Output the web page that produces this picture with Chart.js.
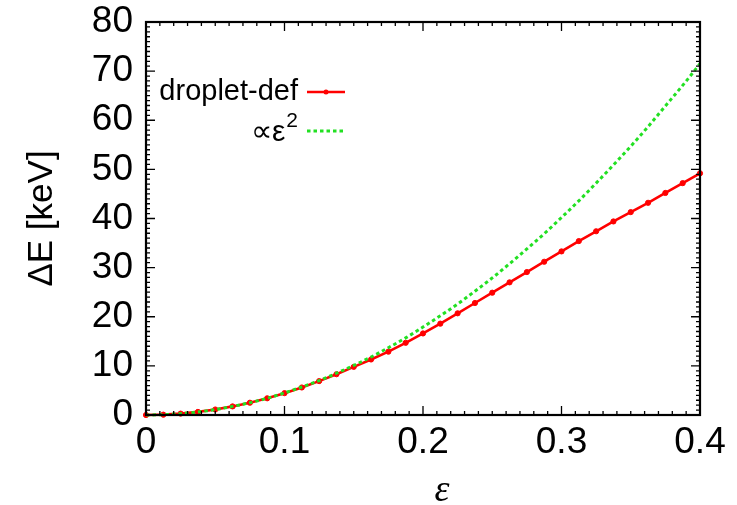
<!DOCTYPE html>
<html>
<head>
<meta charset="utf-8">
<script src="https://cdn.jsdelivr.net/npm/chart.js@4/dist/chart.umd.min.js"></script>
<style>
  html, body { margin: 0; padding: 0; background: #fff; }
  #wrap { width: 737px; height: 505px; }
</style>
</head>
<body>
<div id="wrap"><canvas id="canvas"></canvas></div>
<script>
// deformation parameter epsilon
const eps = [0, 0.0125, 0.025, 0.0375, 0.05, 0.0625, 0.075, 0.0875, 0.1, 0.1125, 0.125, 0.1375,
  0.15, 0.1625, 0.175, 0.1875, 0.2, 0.2125, 0.225, 0.2375, 0.25, 0.2625, 0.275, 0.2875,
  0.3, 0.3125, 0.325, 0.3375, 0.35, 0.3625, 0.375, 0.3875, 0.4]

// droplet-def, keV
const dropletDef = [0, 0.07, 0.28, 0.63, 1.12, 1.75, 2.5, 3.4, 4.45, 5.6, 6.9, 8.3,
  9.8, 11.3, 12.9, 14.7, 16.6, 18.6, 20.7, 22.8, 24.9, 27.0, 29.1, 31.2,
  33.3, 35.4, 37.4, 39.4, 41.3, 43.2, 45.2, 47.2, 49.2]

// ~ eps^2 curve, keV
const epsSquared = [0, 0.07, 0.28, 0.63, 1.1, 1.75, 2.5, 3.4, 4.5, 5.7, 7.0, 8.5,
  10.1, 11.8, 13.7, 15.7, 17.9, 20.2, 22.6, 25.2, 27.9, 30.8, 33.8, 36.9,
  40.2, 43.6, 47.2, 50.9, 54.7, 58.7, 62.9, 67.1, 71.5]

const xTicks = [0, 0.1, 0.2, 0.3, 0.4]
const yTicks = [0, 10, 20, 30, 40, 50, 60, 70, 80]

const RED = '#ff0000'
const GREEN = '#22e022'
const SANS = "'Liberation Sans', Arial, sans-serif"

// gnuplot style frame, inward ticks, legend, x label
const framePlugin = {
  id: 'frame',
  afterDraw(chart) {
    const {ctx, chartArea: a, scales: {x, y}} = chart
    ctx.save()
    ctx.strokeStyle = '#000'
    // minor + major ticks
    ctx.lineWidth = 1.3
    for (let i = 0; i <= 40; i++) {
      const px = x.getPixelForValue(i / 100)
      const len = i % 10 === 0 ? 9 : 4
      ctx.beginPath()
      ctx.moveTo(px, a.bottom); ctx.lineTo(px, a.bottom - len)
      ctx.moveTo(px, a.top); ctx.lineTo(px, a.top + len)
      ctx.stroke()
    }
    for (let i = 0; i <= 80; i++) {
      const py = y.getPixelForValue(i)
      const len = i % 10 === 0 ? 9 : 4
      ctx.beginPath()
      ctx.moveTo(a.left, py); ctx.lineTo(a.left + len, py)
      ctx.moveTo(a.right, py); ctx.lineTo(a.right - len, py)
      ctx.stroke()
    }
    ctx.lineWidth = 2.2
    ctx.strokeRect(a.left, a.top, a.right - a.left, a.bottom - a.top)

    // legend
    const tx = a.left + 152
    const y1 = a.top + 70
    const y2 = a.top + 109
    ctx.fillStyle = '#000'
    ctx.textAlign = 'right'
    ctx.textBaseline = 'middle'
    ctx.font = '29px ' + SANS
    ctx.fillText('droplet-def', tx, y1)
    ctx.font = '21px ' + SANS
    ctx.fillText('2', tx, y2 - 10)
    const w2 = ctx.measureText('2').width
    ctx.font = '30px ' + SANS
    ctx.fillText('\u221D\u03B5', tx - w2 - 1, y2 + 2)

    ctx.strokeStyle = RED
    ctx.lineWidth = 2.5
    ctx.beginPath(); ctx.moveTo(a.left + 161, y1); ctx.lineTo(a.left + 199, y1); ctx.stroke()
    ctx.fillStyle = RED
    ctx.beginPath(); ctx.arc(a.left + 180, y1, 2.5, 0, Math.PI * 2); ctx.fill()

    ctx.strokeStyle = GREEN
    ctx.lineWidth = 3
    ctx.setLineDash([3.5, 3])
    ctx.beginPath(); ctx.moveTo(a.left + 161, y2); ctx.lineTo(a.left + 199, y2); ctx.stroke()
    ctx.setLineDash([])

    // x axis label
    ctx.fillStyle = '#000'
    ctx.textAlign = 'center'
    ctx.textBaseline = 'alphabetic'
    ctx.font = "italic 38px 'Liberation Serif', 'Times New Roman', serif"
    ctx.fillText('\u03B5', (a.left + a.right) / 2 + 19, 501)
    ctx.restore()
  }
}

new Chart(document.getElementById('canvas'), {
  type: 'line',
  data: {
    datasets: [
      {
        label: '\u221D\u03B5\u00B2',
        data: eps.map((e, i) => ({x: e, y: epsSquared[i]})),
        borderColor: GREEN,
        borderWidth: 3,
        borderDash: [3.5, 3],
        pointRadius: 0,
        cubicInterpolationMode: 'monotone',
        clip: 6,
        order: 0
      },
      {
        label: 'droplet-def',
        data: eps.map((e, i) => ({x: e, y: dropletDef[i]})),
        borderColor: RED,
        backgroundColor: RED,
        borderWidth: 2.6,
        pointRadius: 2.6,
        pointBorderWidth: 1,
        tension: 0,
        clip: 6,
        order: 1
      }
    ]
  },
  options: {
    responsive: true,
    maintainAspectRatio: false,
    animation: false,
    layout: { padding: { left: 0, top: 22, right: 37, bottom: 0 } },
    plugins: { legend: { display: false }, tooltip: { enabled: false } },
    scales: {
      x: {
        type: 'linear',
        min: 0,
        max: 0.4,
        afterFit: (s) => { s.height = 90 },
        afterBuildTicks: (s) => { s.ticks = xTicks.map(v => ({value: v})) },
        grid: { display: false, drawTicks: false },
        border: { display: false },
        ticks: { padding: 6, color: '#000', font: { family: SANS, size: 37 }, maxRotation: 0 }
      },
      y: {
        type: 'linear',
        min: 0,
        max: 80,
        afterFit: (s) => { s.width = 146 },
        afterBuildTicks: (s) => { s.ticks = yTicks.map(v => ({value: v})) },
        grid: { display: false, drawTicks: false },
        border: { display: false },
        ticks: { padding: 13, color: '#000', font: { family: SANS, size: 37, lineHeight: 0.45 } },
        title: {
          display: true,
          text: '\u0394E [keV]',
          color: '#000',
          font: { family: SANS, size: 35, lineHeight: 1.2 },
          padding: { top: 21, bottom: 0 }
        }
      }
    }
  },
  plugins: [framePlugin]
});
</script>
</body>
</html>
